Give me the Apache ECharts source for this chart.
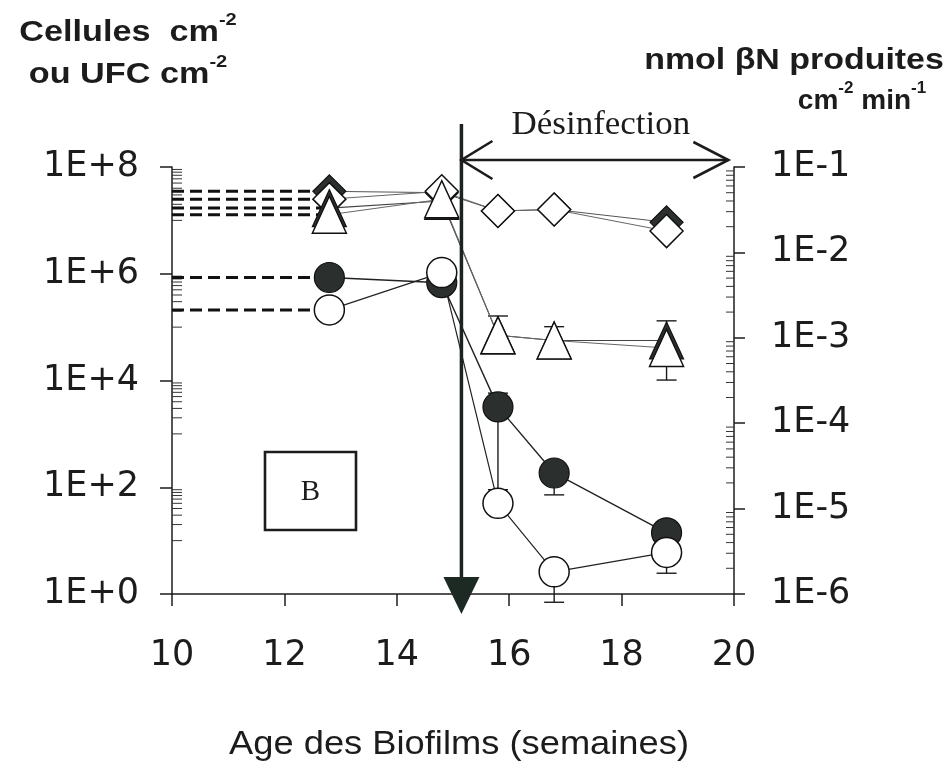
<!DOCTYPE html>
<html>
<head>
<meta charset="utf-8">
<script src="https://cdn.jsdelivr.net/npm/echarts@6/dist/echarts.min.js"></script>
<style>
  html, body { margin: 0; padding: 0; background: #ffffff; }
  #chart { width: 952px; height: 769px; }
</style>
</head>
<body>
<div id="chart"></div>
<script>
// Sampling ages (weeks)
const weeks = [12.8, 14.8, 15.8, 16.8, 18.8];

// Left axis: cells cm-2 or CFU cm-2
const cellsFilled = [8.5e5, 6.8e5, 3.2e3, 185, 14];
const cellsOpen = [2.1e5, 1.05e6, 50, 2.6, 6.0];
const diamondFilled = [3.5e7, 3.3e7, 1.5e7, 1.6e7, 9.2e6];
const diamondOpen = [2.5e7, 3.5e7, 1.5e7, 1.6e7, 6.3e6];

// Right axis: nmol βN produced cm-2 min-1
const triFilled = [0.033, 0.040, 1.07e-3, 9.3e-4, 9.3e-4];
const triOpen = [0.0276, 0.042, 1.07e-3, 9.3e-4, 7.6e-4];

// Error bar ends (null = no bar on that side)
const cellsFilledLow = [null, null, 90, 72, null];
const cellsFilledHigh = [null, null, 5.8e3, null, 20.4];
const cellsOpenLow = [null, null, null, 0.7, 2.45];
const cellsOpenHigh = [null, null, null, 4.0, null];
const triOpenLow = [null, null, null, null, 3.2e-4];
const triOpenHigh = [null, null, 1.8e-3, 1.35e-3, null];
const triFilledHigh = [null, null, null, null, 1.58e-3];

// Start of the disinfection (weeks) and end of the period arrow
const disinfectionWeek = 15.15;
const periodEndWeek = 19.9;

// Axis ranges
const xMin = 10, xMax = 20, xStep = 2;
const leftMin = 1, leftMax = 1e8;
const rightMin = 1e-6, rightMax = 1e-1;

const SANS = '"Liberation Sans", Arial, sans-serif';
const WIDE = '"DejaVu Sans", "Liberation Sans", sans-serif';
const SERIF = '"Liberation Serif", "Times New Roman", serif';
const INK = '#1c1c1c';
const DARK = '#2b302e';

const chart = echarts.init(document.getElementById('chart'), null, { renderer: 'canvas' });

const pairs = (ys) => weeks.map((w, i) => [w, ys[i]]);

function expLabel(v) {
  const e = Math.round(Math.log10(v));
  return '1E' + (e >= 0 ? '+' : '-') + Math.abs(e);
}

// Minor tick values for a log axis (decoration only):
// left axis: 1..9 x 10^odd inside each two-decade step; right axis: 2..9 x 10^n
function minorTicksLeft(lo, hi) {
  const out = [];
  const e0 = Math.round(Math.log10(lo)), e1 = Math.round(Math.log10(hi));
  for (let e = e0 + 1; e < e1; e += 2) {
    for (let k = 1; k <= 9; k++) out.push(k * Math.pow(10, e));
  }
  return out;
}
function minorTicksRight(lo, hi) {
  const out = [];
  const e0 = Math.round(Math.log10(lo)), e1 = Math.round(Math.log10(hi));
  for (let e = e0; e < e1; e++) {
    for (let k = 2; k <= 9; k++) out.push(k * Math.pow(10, e));
  }
  return out;
}

function tickSeries(values, axisIdx, xVal, dir, len) {
  return {
    type: 'custom', yAxisIndex: axisIdx, silent: true, clip: false, z: 1,
    data: values.map(v => [xVal, v]),
    renderItem: (params, api) => {
      const p = api.coord([api.value(0), api.value(1)]);
      return { type: 'line', shape: { x1: p[0], y1: p[1], x2: p[0] + dir * len, y2: p[1] },
               style: { stroke: '#333', lineWidth: 1 } };
    }
  };
}

function errorData(vals, lows, highs) {
  const out = [];
  vals.forEach((v, i) => {
    const lo = lows ? lows[i] : null, hi = highs ? highs[i] : null;
    if (lo == null && hi == null) return;
    out.push([weeks[i], lo == null ? v : lo, hi == null ? v : hi, lo == null ? 0 : 1, hi == null ? 0 : 1]);
  });
  return out;
}

function errorSeries(data, axisIdx) {
  return {
    type: 'custom', yAxisIndex: axisIdx, silent: true, clip: false, z: 2,
    data: data,
    renderItem: (params, api) => {
      const x = api.value(0);
      const a = api.coord([x, api.value(1)]);
      const b = api.coord([x, api.value(2)]);
      const w = 10;
      const st = { stroke: INK, lineWidth: 1.4 };
      const kids = [{ type: 'line', shape: { x1: a[0], y1: a[1], x2: b[0], y2: b[1] }, style: st }];
      if (api.value(3)) kids.push({ type: 'line', shape: { x1: a[0] - w, y1: a[1], x2: a[0] + w, y2: a[1] }, style: st });
      if (api.value(4)) kids.push({ type: 'line', shape: { x1: b[0] - w, y1: b[1], x2: b[0] + w, y2: b[1] }, style: st });
      return { type: 'group', children: kids };
    }
  };
}

function lineSeries(ys, axisIdx, color, width) {
  return {
    type: 'line', yAxisIndex: axisIdx, data: pairs(ys), showSymbol: false, symbol: 'none',
    silent: true, z: 2, lineStyle: { color: color, width: width }
  };
}

function dashSeries(ys, axisIdx) {
  return {
    type: 'line', yAxisIndex: axisIdx, data: [[xMin, ys[0]], [weeks[0], ys[0]]],
    showSymbol: false, symbol: 'none', silent: true, z: 2,
    lineStyle: { color: '#111', width: 3, type: [12, 6] }
  };
}

function markerSeries(ys, axisIdx, symbol, size, filled) {
  return {
    type: 'scatter', yAxisIndex: axisIdx, data: pairs(ys), symbol: symbol, symbolSize: size,
    silent: true, z: 3,
    itemStyle: filled
      ? { color: DARK, borderColor: '#111', borderWidth: 1.2, opacity: 1 }
      : { color: '#ffffff', borderColor: '#111', borderWidth: 1.5, opacity: 1 }
  };
}

const tickLabel = { fontFamily: WIDE, fontSize: 35, color: INK };

const option = {
  backgroundColor: '#ffffff',
  animation: false,
  grid: { left: 172, right: 218, top: 167, bottom: 175, containLabel: false },
  xAxis: {
    type: 'value', min: xMin, max: xMax, interval: xStep,
    axisLine: { lineStyle: { color: INK, width: 1.5 } },
    axisTick: { length: 12, lineStyle: { color: INK, width: 1.5 } },
    axisLabel: Object.assign({ margin: 44 }, tickLabel),
    splitLine: { show: false }
  },
  yAxis: [
    {
      type: 'log', logBase: 100, min: leftMin, max: leftMax, position: 'left',
      axisLine: { show: true, lineStyle: { color: INK, width: 1.5 } },
      axisTick: { show: true, length: 12, lineStyle: { color: INK, width: 1.5 } },
      axisLabel: Object.assign({ margin: 33, formatter: expLabel }, tickLabel),
      splitLine: { show: false }
    },
    {
      type: 'log', logBase: 10, min: rightMin, max: rightMax, position: 'right',
      axisLine: { show: true, lineStyle: { color: INK, width: 1.5 } },
      axisTick: { show: true, length: 11, lineStyle: { color: INK, width: 1.5 } },
      axisLabel: Object.assign({ margin: 37, formatter: expLabel }, tickLabel),
      splitLine: { show: false }
    }
  ],
  series: [
    tickSeries(minorTicksLeft(leftMin, leftMax), 0, xMin, 1, 10),
    tickSeries(minorTicksRight(rightMin, rightMax), 1, xMax, -1, 8),

    dashSeries(diamondFilled, 0),
    dashSeries(diamondOpen, 0),
    dashSeries(triFilled, 1),
    dashSeries(triOpen, 1),
    dashSeries(cellsFilled, 0),
    dashSeries(cellsOpen, 0),

    lineSeries(diamondFilled, 0, '#555', 1),
    lineSeries(diamondOpen, 0, '#666', 1),
    lineSeries(triFilled, 1, '#444', 1.1),
    lineSeries(triOpen, 1, '#666', 1),
    lineSeries(cellsFilled, 0, '#222', 1.4),
    lineSeries(cellsOpen, 0, '#222', 1.2),

    errorSeries(errorData(cellsFilled, cellsFilledLow, cellsFilledHigh), 0),
    errorSeries(errorData(cellsOpen, cellsOpenLow, cellsOpenHigh), 0),
    errorSeries(errorData(triOpen, triOpenLow, triOpenHigh), 1),
    errorSeries(errorData(triFilled, null, triFilledHigh), 1),

    markerSeries(diamondFilled, 0, 'diamond', [33, 33], true),
    markerSeries(diamondOpen, 0, 'diamond', [33, 33], false),
    markerSeries(triFilled, 1, 'triangle', [34, 37], true),
    markerSeries(triOpen, 1, 'triangle', [34, 37], false),
    markerSeries(cellsFilled, 0, 'circle', 30, true),
    markerSeries(cellsOpen, 0, 'circle', 30, false)
  ]
};

chart.setOption(option);

// Annotations: disinfection arrows, panel letter, axis titles
const xd = chart.convertToPixel({ xAxisIndex: 0 }, disinfectionWeek);
const xe = chart.convertToPixel({ xAxisIndex: 0 }, periodEndWeek);
const xMid = (chart.convertToPixel({ xAxisIndex: 0 }, xMin) + chart.convertToPixel({ xAxisIndex: 0 }, xMax)) / 2;
const gridTop = 167, gridBottom = 769 - 175;
const yArrow = gridTop - 7;
const stroke = { stroke: INK, lineWidth: 2.6, fill: null };
const supStyle = { fontFamily: SANS, fontWeight: 'bold', fontSize: 17, verticalAlign: 'top', lineHeight: 33, fill: INK };

chart.setOption({
  graphic: [
    // vertical disinfection marker
    { type: 'line', z: 10, shape: { x1: xd, y1: 124, x2: xd, y2: gridBottom - 12 }, style: { stroke: '#1d2420', lineWidth: 3.5 } },
    { type: 'polygon', z: 10, shape: { points: [[xd - 18, gridBottom - 17], [xd + 18, gridBottom - 17], [xd, gridBottom + 20]] }, style: { fill: '#1d2a24' } },
    // double arrow for the disinfection period
    { type: 'line', z: 10, shape: { x1: xd, y1: yArrow, x2: xe, y2: yArrow }, style: stroke },
    { type: 'polyline', z: 10, shape: { points: [[xd + 31, yArrow - 19], [xd, yArrow], [xd + 31, yArrow + 19]] }, style: stroke },
    { type: 'polyline', z: 10, shape: { points: [[xe - 35, yArrow - 18], [xe, yArrow], [xe - 35, yArrow + 18]] }, style: stroke },
    { type: 'text', z: 10, x: (xd + xe) / 2 + 6, y: 125, scaleX: 1.06,
      style: { text: 'Désinfection', fontFamily: SERIF, fontSize: 33, fill: INK, align: 'center', verticalAlign: 'middle' } },
    // panel letter
    { type: 'rect', z: 10, shape: { x: 265, y: 452, width: 91, height: 78 }, style: { stroke: INK, lineWidth: 2.6, fill: '#ffffff' } },
    { type: 'text', z: 11, x: 310.5, y: 492,
      style: { text: 'B', fontFamily: SERIF, fontSize: 29, fill: INK, align: 'center', verticalAlign: 'middle' } },
    // x axis title
    { type: 'text', z: 10, x: xMid + 6, y: 745, scaleX: 1.1,
      style: { text: 'Age des Biofilms (semaines)', fontFamily: SANS, fontSize: 33, fill: INK, align: 'center', verticalAlign: 'middle' } },
    // left axis title
    { type: 'text', z: 10, x: 128, y: 54, scaleX: 1.18,
      style: {
        text: 'Cellules  cm{s|-2}\nou UFC cm{s|-2}', fontFamily: SANS, fontWeight: 'bold', fontSize: 29,
        lineHeight: 42, fill: INK, align: 'center', verticalAlign: 'middle',
        rich: { s: supStyle }
      } },
    // right axis title
    { type: 'text', z: 10, x: 794, y: 61, scaleX: 1.17,
      style: {
        text: 'nmol βN produites', fontFamily: SANS, fontWeight: 'bold', fontSize: 29,
        fill: INK, align: 'center', verticalAlign: 'middle'
      } },
    { type: 'text', z: 10, x: 862, y: 101, scaleX: 1.0,
      style: {
        text: 'cm{s|-2} min{s|-1}', fontFamily: SANS, fontWeight: 'bold', fontSize: 28,
        lineHeight: 42, fill: INK, align: 'center', verticalAlign: 'middle',
        rich: { s: supStyle }
      } }
  ]
});
</script>
</body>
</html>
